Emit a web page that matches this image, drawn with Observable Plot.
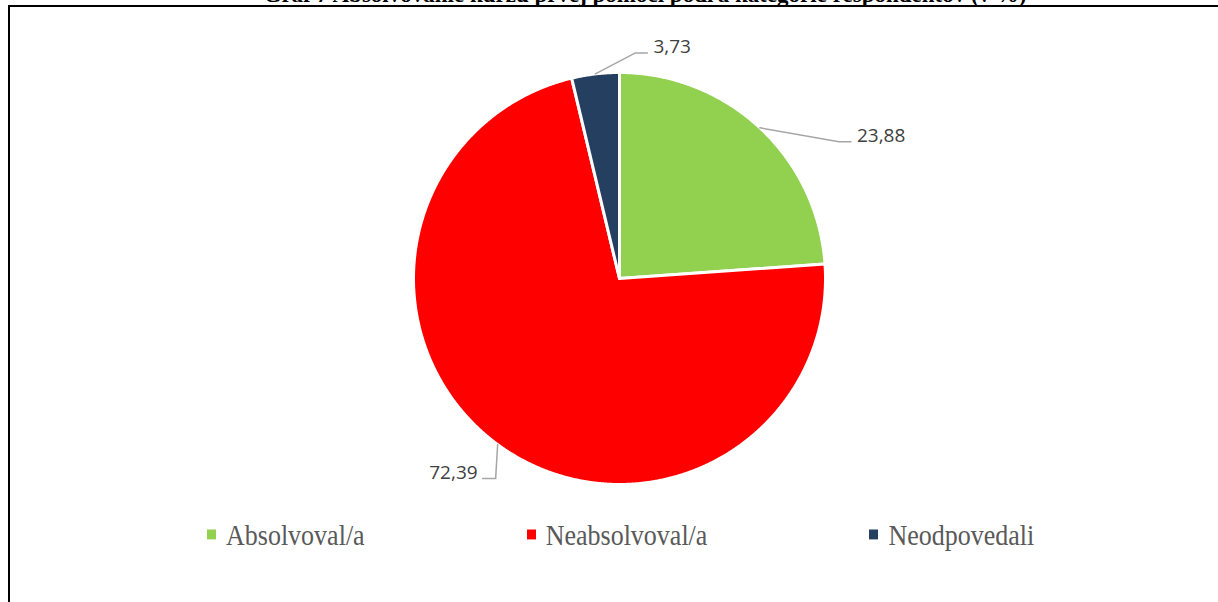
<!DOCTYPE html>
<html>
<head>
<meta charset="utf-8">
<script src="https://cdn.jsdelivr.net/npm/d3@7"></script>
<script src="https://cdn.jsdelivr.net/npm/@observablehq/plot@0.6"></script>
<style>
  html, body { margin: 0; padding: 0; background: #fff; }
  body { width: 1218px; height: 602px; overflow: hidden; position: relative; }
  #frame { position: absolute; left: 8px; top: 5px; width: 1300px; height: 700px;
           border-left: 2px solid #000; border-top: 2px solid #000; }
  #title { position: absolute; left: 0; width: 1290px; top: -17px; text-align: center;
           font-family: "Liberation Serif", serif; font-weight: bold; font-size: 23px; line-height: 23px; color: #000; }
  #chart { position: absolute; left: 0; top: 0; }
  #legend { position: absolute; left: 207px; top: 524px; display: flex; gap: 162px;
            font-family: "Liberation Serif", serif; font-size: 26px; line-height: 26px; color: #595959;
            transform: scaleY(1.1); transform-origin: 0 22px; white-space: nowrap; }
  #legend .sw { display: inline-block; width: 9px; height: 9px; margin-right: 10px; vertical-align: 5px; }
</style>
</head>
<body>
<div id="frame"></div>
<div id="title">Graf 7 Absolvovanie kurzu prvej pomoci podľa kategórie respondentov (v %)</div>
<div id="chart"></div>
<div id="legend"></div>
<script>
// ---- data ----
const categories = ["Absolvoval/a", "Neabsolvoval/a", "Neodpovedali"];
const values = [23.88, 72.39, 3.73];
const colors = ["#92D050", "#FF0000", "#243F60"];

// ---- layout (px offsets for Excel-style leader lines) ----
const R = 206;
const labelLayout = {
  "Absolvoval/a":   {elbow: [79, 14],  run: 12,  anchor: "start"},
  "Neabsolvoval/a": {elbow: [-2, 34],  run: -13, anchor: "end"},
  "Neodpovedali":   {elbow: [40, -21], run: 12,  anchor: "start"}
};

const table = categories.map((c, i) => ({cat: c, value: values[i]}));
const arcs = d3.pie().sort(null).value(d => d.value)(table);

// slice polygons
const slicePts = [];
arcs.forEach(a => {
  const cat = a.data.cat;
  slicePts.push({cat, x: 0, y: 0});
  const n = Math.max(2, Math.ceil((a.endAngle - a.startAngle) / 0.005));
  for (let k = 0; k <= n; k++) {
    const t = a.startAngle + (a.endAngle - a.startAngle) * k / n;
    slicePts.push({cat, x: Math.sin(t), y: Math.cos(t)});
  }
  slicePts.push({cat, x: 0, y: 0});
});

// leader lines and labels
const leaderPts = [];
const labels = [];
const fmt = v => d3.format(".2f")(v).replace(".", ",");
arcs.forEach(a => {
  const cat = a.data.cat;
  const L = labelLayout[cat];
  const m = (a.startAngle + a.endAngle) / 2;
  const ex = Math.sin(m), ey = Math.cos(m);
  const bx = ex + L.elbow[0] / R, by = ey - L.elbow[1] / R;
  const cx = bx + L.run / R, cy = by;
  leaderPts.push({cat, x: ex, y: ey}, {cat, x: bx, y: by}, {cat, x: cx, y: cy});
  labels.push({cat, x: cx, y: cy, text: fmt(a.data.value), anchor: L.anchor});
});

const plot = Plot.plot({
  width: 1218,
  height: 515,
  marginTop: 72,
  marginBottom: 31,
  marginLeft: 413,
  marginRight: 393,
  x: {domain: [-1, 1], axis: null},
  y: {domain: [-1, 1], axis: null},
  color: {domain: categories, range: colors},
  style: {background: "transparent", overflow: "visible"},
  marks: [
    Plot.line(slicePts, {x: "x", y: "y", z: "cat", fill: "cat", stroke: "white", strokeWidth: 3, strokeLinejoin: "round", curve: "linear"}),
    Plot.line(leaderPts, {x: "x", y: "y", z: "cat", stroke: "#A6A6A6", strokeWidth: 1.5, curve: "linear"}),
    Plot.text(labels.filter(d => d.anchor === "start"), {x: "x", y: "y", text: "text", textAnchor: "start", dx: 6, dy: -6,
      fontSize: 19, fontFamily: "'Open Sans', sans-serif", fill: "#404040"}),
    Plot.text(labels.filter(d => d.anchor === "end"), {x: "x", y: "y", text: "text", textAnchor: "end", dx: -5, dy: -6,
      fontSize: 19, fontFamily: "'Open Sans', sans-serif", fill: "#404040"})
  ]
});
document.getElementById("chart").appendChild(plot);

// legend
const legend = document.getElementById("legend");
categories.forEach((c, i) => {
  const item = document.createElement("span");
  const sw = document.createElement("span");
  sw.className = "sw";
  sw.style.background = colors[i];
  item.appendChild(sw);
  item.appendChild(document.createTextNode(c));
  legend.appendChild(item);
});
</script>
</body>
</html>
